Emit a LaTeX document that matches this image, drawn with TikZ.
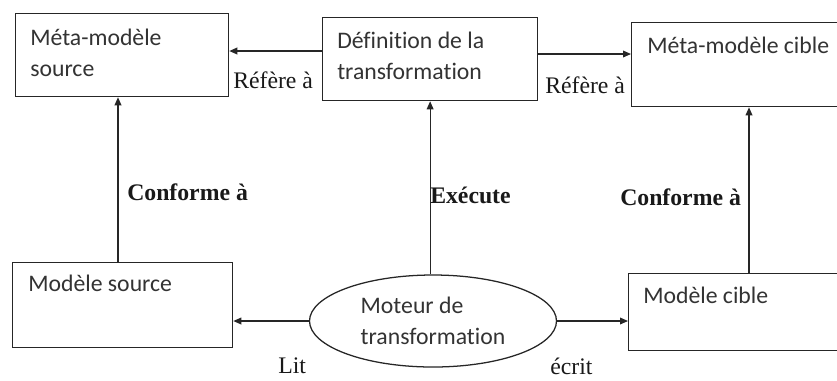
\documentclass[tikz,border=0pt]{standalone}
\usepackage{fontspec}
\setmainfont{Liberation Serif}
\newfontfamily\boxfont[Ligatures={NoCommon,NoContextual}]{Carlito}
\usetikzlibrary{shapes.geometric,arrows.meta}
\begin{document}
\begin{tikzpicture}[x=0.75pt,y=-0.75pt,
  line/.style={draw=black!85, line width=0.95pt},
  arr/.style={line, -{Triangle[length=6pt,width=5pt]}},
  box/.style={line, rectangle, inner sep=0pt, anchor=north west},
  boxtext/.style={anchor=north west, inner sep=0pt, align=left, text=black!80,
    font=\boxfont\fontsize{17.8}{23.25}\selectfont},
  lbl/.style={anchor=base west, inner sep=0pt, text=black!90,
    font=\fontsize{17.8}{20}\selectfont},
  blbl/.style={lbl, font=\bfseries\fontsize{17.8}{20}\selectfont}
]
\clip (0,0) rectangle (837,380);
\fill[white] (0,0) rectangle (837,380);

% boxes
\node[box, minimum width=159.75pt, minimum height=62.25pt] (b1) at (15,13) {};
\node[box, minimum width=161.25pt, minimum height=62.25pt] (b2) at (322,17) {};
\node[box, minimum width=164.25pt, minimum height=63pt]    (b3) at (631,22) {};
\node[box, minimum width=165pt,    minimum height=63.75pt] (b4) at (12,262) {};
\node[box, minimum width=166.5pt,  minimum height=57.75pt] (b5) at (628,273) {};

% engine
\node[line, ellipse, minimum width=185.25pt, minimum height=69pt, inner sep=0pt,
  align=left, text=black!80, font=\boxfont\fontsize{17.8}{23.25}\selectfont]
  (ell) at (433,321) {Moteur de\\transformation};

% box contents
\node[boxtext] (t1) at (30,29)  {Méta-modèle\\source};
\node[boxtext] (t2) at (337,32) {Définition de la\\transformation};
\node[boxtext] (t3) at (647,37) {Méta-modèle cible};
\node[boxtext] (t4) at (28,275) {Modèle source};
\node[boxtext] (t5) at (643,287) {Modèle cible};

% connectors
\draw[arr] (b2.west |- 0,51) -- (b1.east |- 0,51);
\draw[arr] (b2.east |- 0,54) -- (b3.west |- 0,54);
\draw[arr] (b4.north -| 118,0) -- (b1.south -| 118,0);
\draw[arr] (ell.north -| b2.south) -- (b2.south);
\draw[arr] (b5.north -| 749,0) -- (b3.south -| 749,0);
\draw[arr] (ell.west) -- (b4.east |- ell.west);
\draw[arr] (ell.east) -- (b5.west |- ell.east);

% connector labels
\node[lbl]  (l1) at (233,88)  {Réfère à};
\node[lbl]  (l2) at (545,93)  {Réfère à};
\node[blbl] (l3) at (127,200) {Conforme à};
\node[blbl] (l4) at (430,203) {Exécute};
\node[blbl] (l5) at (620,205) {Conforme à};
\node[lbl]  (l6) at (278,373) {Lit};
\node[lbl]  (l7) at (550,374) {écrit};
\end{tikzpicture}
\end{document}
